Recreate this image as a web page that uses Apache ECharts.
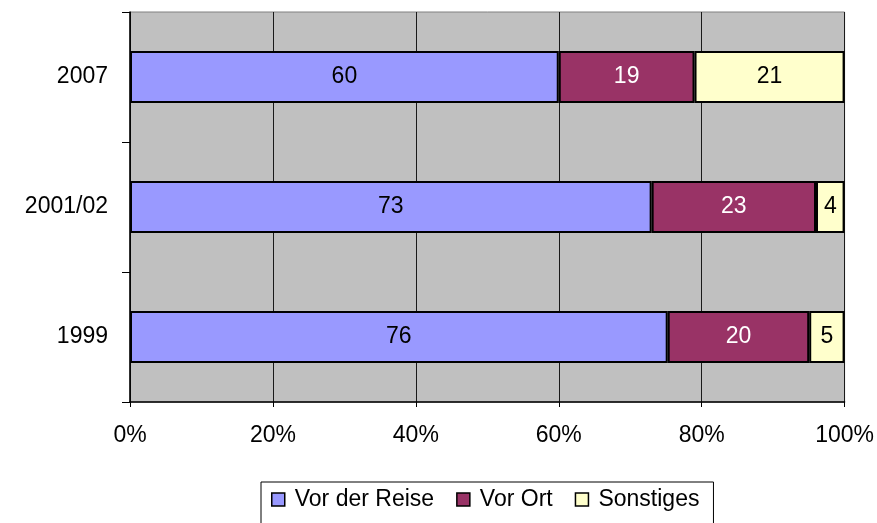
<!DOCTYPE html>
<html>
<head>
<meta charset="utf-8">
<title>Chart</title>
<script src="https://cdn.jsdelivr.net/npm/echarts@6/dist/echarts.min.js"></script>
<style>
  html, body { margin: 0; padding: 0; background: #fff; }
  #chart { width: 877px; height: 523px; }
</style>
</head>
<body>
<div id="chart"></div>
<script>
const years = ["1999", "2001/02", "2007"];
const vorDerReise = [76, 73, 60];
const vorOrt = [20, 23, 19];
const sonstiges = [5, 4, 21];
const xTicks = [0, 20, 40, 60, 80, 100];

const font = "'Liberation Sans', Arial, sans-serif";

// 100%-Stapel: Anteile aus den Rohwerten berechnen, Beschriftung zeigt Rohwert
const totals = years.map((_, i) => vorDerReise[i] + vorOrt[i] + sonstiges[i]);
const toShare = (arr) => arr.map((v, i) => ({ value: (v / totals[i]) * 100, raw: v }));

const makeSeries = (name, arr, color, labelColor) => ({
  name,
  type: "bar",
  stack: "total",
  barWidth: 52,
  data: toShare(arr),
  itemStyle: { color, borderColor: "#000", borderWidth: 2 },
  label: {
    show: true,
    position: "inside",
    color: labelColor,
    fontFamily: font,
    fontSize: 23,
    formatter: (p) => p.data.raw,
  },
});

const chart = echarts.init(document.getElementById("chart"));
chart.setOption({
  animation: false,
  textStyle: { fontFamily: font },
  grid: {
    left: 130,
    right: 32,
    top: 12,
    bottom: 121,
    show: true,
    backgroundColor: "#C0C0C0",
    borderColor: "#808080",
    borderWidth: 1,
  },
  xAxis: {
    type: "value",
    min: xTicks[0],
    max: xTicks[xTicks.length - 1],
    interval: 20,
    axisLine: { show: true, lineStyle: { color: "#000", width: 1.5 } },
    axisTick: { show: true, length: 5, lineStyle: { color: "#000" } },
    axisLabel: {
      color: "#000",
      fontSize: 23,
      fontFamily: font,
      margin: 22,
      formatter: "{value}%",
    },
    splitLine: { show: true, lineStyle: { color: "#1a1a1a", width: 1 } },
  },
  yAxis: {
    type: "category",
    data: years,
    axisLine: { show: true, lineStyle: { color: "#000", width: 1.5 } },
    axisTick: { show: true, length: 8, lineStyle: { color: "#000" } },
    axisLabel: { color: "#000", fontSize: 23, fontFamily: font, margin: 22 },
    splitLine: { show: false },
  },
  legend: {
    left: 261,
    top: 482,
    orient: "horizontal",
    icon: "rect",
    itemWidth: 13,
    itemHeight: 13,
    itemGap: 22,
    padding: [6, 14, 20, 10],
    borderColor: "#000",
    borderWidth: 1,
    backgroundColor: "#fff",
    itemStyle: { borderColor: "#000", borderWidth: 1.5 },
    textStyle: { color: "#000", fontSize: 23, fontFamily: font, padding: [0, 0, 0, 5] },
    data: ["Vor der Reise", "Vor Ort", "Sonstiges"],
  },
  series: [
    makeSeries("Vor der Reise", vorDerReise, "#9999FF", "#000"),
    makeSeries("Vor Ort", vorOrt, "#993366", "#fff"),
    makeSeries("Sonstiges", sonstiges, "#FFFFCC", "#000"),
  ],
});
</script>
</body>
</html>
